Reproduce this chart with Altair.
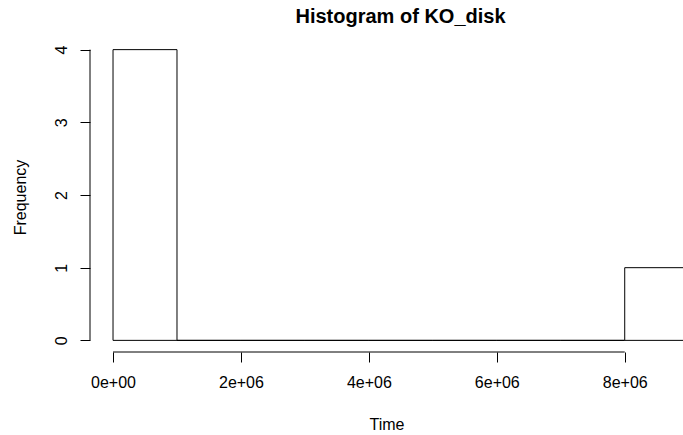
import altair as alt
import pandas as pd

# Histogram data (bins of width 1e6)
bin_starts = [0, 1e6, 2e6, 3e6, 4e6, 5e6, 6e6, 7e6, 8e6]
bin_width = 1e6
counts = [4, 0, 0, 0, 0, 0, 0, 0, 1]
x_ticks = [0, 2e6, 4e6, 6e6, 8e6]
x_tick_labels = ["0e+00", "2e+06", "4e+06", "6e+06", "8e+06"]
y_ticks = [0, 1, 2, 3, 4]

df = pd.DataFrame({
    "start": bin_starts,
    "end": [s + bin_width for s in bin_starts],
    "count": counts,
})
xaxis_df = pd.DataFrame({"x0": [min(x_ticks)], "x1": [max(x_ticks)]})
yaxis_df = pd.DataFrame({"y0": [min(y_ticks)], "y1": [max(y_ticks)]})

label_expr = " : ".join(
    f"datum.value == {v} ? '{l}'" for v, l in zip(x_ticks, x_tick_labels)
) + " : ''"

FONT = "Liberation Sans"
xscale = alt.Scale(domain=[-360000, 8911000], nice=False, zero=False)
yscale = alt.Scale(domain=[-0.16, 4.16], nice=False, zero=False)

bars = alt.Chart(df).mark_rect(fill="white", stroke="black", strokeWidth=1, clip=True).encode(
    x=alt.X("start:Q", scale=xscale, axis=alt.Axis(
        values=x_ticks, labelExpr=label_expr, title="Time", domain=False, grid=False,
        tickSize=10, tickColor="black", labelColor="black", labelFont=FONT, labelFontSize=16,
        labelBaseline="middle", labelPadding=20, labelFlush=False, labelOverlap=False,
        titleFont=FONT, titleFontSize=16, titleFontWeight="normal", titleColor="black",
        titleY=72, titleBaseline="middle")),
    x2="end:Q",
    y=alt.Y("count:Q", scale=yscale, axis=alt.Axis(
        values=y_ticks, format="d", title="Frequency", domain=False, grid=False,
        tickSize=10, tickColor="black", labelColor="black", labelFont=FONT, labelFontSize=16,
        labelAngle=270, labelAlign="center", labelBaseline="middle", labelPadding=19,
        labelFlush=False, labelOverlap=False,
        titleFont=FONT, titleFontSize=16, titleFontWeight="normal", titleColor="black",
        titleAngle=270, titleAlign="center", titleBaseline="middle", titleX=-70, titleY=159)),
    y2=alt.Y2(datum=0),
)

xline = alt.Chart(xaxis_df).mark_rule(color="black", strokeWidth=1).encode(
    x=alt.X("x0:Q", scale=xscale), x2="x1:Q", y=alt.value(314)
)
yline = alt.Chart(yaxis_df).mark_rule(color="black", strokeWidth=1).encode(
    y=alt.Y("y0:Q", scale=yscale), y2="y1:Q", x=alt.value(0)
)

chart = alt.layer(bars, xline, yline).properties(
    width=593, height=314,
    autosize=alt.AutoSizeParams(type="none"),
    padding={"left": 90, "top": 38, "right": 0, "bottom": 83},
    background="white",
    title=alt.TitleParams("Histogram of KO_disk", font=FONT, fontSize=20, fontWeight="bold",
                          color="black", anchor="middle", baseline="middle", offset=1, dx=14),
).configure_view(stroke=None)

chart.save("out.html", embed_options={"renderer": "svg", "actions": False})
